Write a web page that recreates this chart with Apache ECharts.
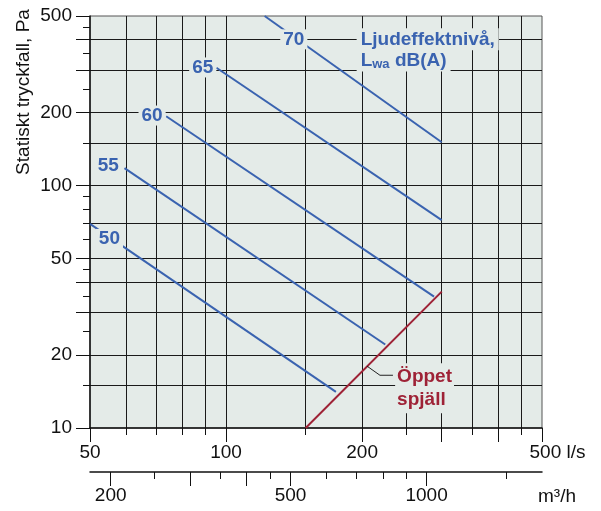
<!DOCTYPE html>
<html><head><meta charset="utf-8">
<script src="https://cdn.jsdelivr.net/npm/echarts@6/dist/echarts.min.js"></script>
<style>html,body{margin:0;padding:0;background:#fff}#c{width:601px;height:511px}</style>
</head><body><div id="c"></div>
<script>
// ---- data ----
const flowTicksMajor = [50, 100, 200, 300, 400, 500];
const flowTicksMinor = [60, 70, 80, 90, 150, 250, 350, 450];
const flowGrid = [60, 70, 80, 90, 100, 150, 200, 250, 300, 350, 400, 450];
const flowLabels = [50, 100, 200, 500];
const m3hTicksMajor = [200, 300, 400, 500, 1000];
const m3hTicksMinor = [250, 350, 450, 600, 700, 800, 900, 1500];
const m3hLabels = [200, 500, 1000];
const paTicksMajor = [10, 20, 30, 40, 50, 100, 200, 300, 400, 500];
const paTicksMinor = [15, 25, 35, 45, 60, 70, 80, 90, 150, 250, 350, 450];
const paGrid = [15, 20, 30, 40, 50, 70, 100, 150, 200, 300, 400];
const paLabels = [10, 20, 50, 100, 200, 500];

const levelNames = ['50', '55', '60', '65', '70'];
const levelFlow = [[50, 175], [59.6, 225], [73.7, 288.5], [95.2, 300], [121.7, 300]];
const levelPa = [[69.5, 14.1], [118, 22.1], [193, 34.8], [305.8, 72], [500, 150.7]];
const levelLabelFlow = [55.2, 54.9, 68.6, 88.8, 141.2];
const levelLabelPa = [60.2, 120.7, 194.3, 306.8, 400.6];

const openFlow = [150, 300];
const openPa = [10, 36.5];
const openLabel = 'Öppet\nspjäll';
const openLabelPos = [236, 14.6];
const leaderFlow = [205, 219, 234];
const leaderPa = [18.0, 16.5, 16.5];

const titleLine1 = 'Ljudeffektnivå,';
const titleLine2 = ['L', 'wa', ' dB(A)'];
const titlePos1 = [194, 400.6];
const titlePos2 = [194, 328];

// ---- style ----
const FONT = 'Liberation Sans, Arial, Helvetica, sans-serif';
const BLUE = '#3a63b0';
const RED = '#9e2236';
const BG = '#e4ebe8';
const INK = '#111';

const chart = echarts.init(document.getElementById('c'), null, {renderer: 'canvas'});

function xAx(opts) {
  return Object.assign({
    type: 'log', logBase: 10, min: 50, max: 500, gridIndex: 0, position: 'bottom',
    axisLine: {show: false}, axisTick: {show: false}, axisLabel: {show: false},
    splitLine: {show: false}, minorTick: {show: false}, minorSplitLine: {show: false}
  }, opts);
}
function yAx(opts) {
  return Object.assign({
    type: 'log', logBase: 10, min: 10, max: 500, gridIndex: 0, position: 'left',
    axisLine: {show: false}, axisTick: {show: false}, axisLabel: {show: false},
    splitLine: {show: false}, minorTick: {show: false}, minorSplitLine: {show: false}
  }, opts);
}
const lbl = {color: INK, fontSize: 19, fontFamily: FONT};
const hidden = {color: 'rgba(0,0,0,0)', opacity: 1};

const series = [];
levelNames.forEach((n, i) => {
  series.push({
    type: 'line', name: 'L' + n, xAxisIndex: 0, yAxisIndex: 0,
    data: [[levelFlow[i][0], levelPa[i][0]], [levelFlow[i][1], levelPa[i][1]]],
    showSymbol: false, symbol: 'none', lineStyle: {color: BLUE, width: 2}, z: 3, silent: true
  });
});
series.push({
  type: 'line', name: 'open', data: [[openFlow[0], openPa[0]], [openFlow[1], openPa[1]]],
  symbol: 'none', lineStyle: {color: RED, width: 2}, z: 4, silent: true
});
series.push({
  type: 'line', name: 'leader', data: leaderFlow.map((f, i) => [f, leaderPa[i]]),
  symbol: 'none', lineStyle: {color: '#222', width: 1}, z: 4, silent: true
});
series.push({
  type: 'scatter', name: 'levelLabels', z: 6, silent: true, symbolSize: 1, itemStyle: hidden,
  data: levelNames.map((n, i) => ({value: [levelLabelFlow[i], levelLabelPa[i]], name: n})),
  label: {show: true, position: 'inside', formatter: p => p.name, color: BLUE, fontWeight: 'bold',
    fontSize: 19, fontFamily: FONT, backgroundColor: BG, padding: [1, 3, 0, 3]}
});
series.push({
  type: 'scatter', name: 'titles', z: 6, silent: true, symbolSize: 1, itemStyle: hidden,
  data: [
    {value: titlePos1, label: {formatter: '{t|' + titleLine1 + '}'}},
    {value: titlePos2, label: {formatter: '{t|' + titleLine2[0] + '}{s|' + titleLine2[1] + '}{t|' + titleLine2[2] + '}'}}
  ],
  label: {show: true, position: 'right', distance: 0, backgroundColor: BG, padding: [0, 4, 0, 4],
    rich: {
      t: {color: BLUE, fontWeight: 'bold', fontSize: 19, fontFamily: FONT, lineHeight: 22},
      s: {color: BLUE, fontWeight: 'bold', fontSize: 13, fontFamily: FONT, lineHeight: 22, verticalAlign: 'bottom', padding: [6, 0, 0, 0]}
    }}
});
series.push({
  type: 'scatter', name: 'openLabel', z: 6, silent: true, symbolSize: 1, itemStyle: hidden,
  data: [{value: openLabelPos}],
  label: {show: true, position: 'right', distance: 0, formatter: openLabel, color: RED, fontWeight: 'bold',
    fontSize: 19, fontFamily: FONT, lineHeight: 23, backgroundColor: BG, padding: [2, 2, 2, 2]}
});

chart.setOption({
  animation: false,
  backgroundColor: '#fff',
  grid: {left: 90, top: 16, width: 452, height: 412, show: true, backgroundColor: BG, borderColor: '#555', borderWidth: 1, containLabel: false},
  xAxis: [
    xAx({axisLine: {show: true, lineStyle: {color: INK, width: 1.5}},
      axisTick: {show: true, length: 14, lineStyle: {color: INK, width: 1}, customValues: flowTicksMajor},
      axisLabel: Object.assign({show: true, margin: 15, customValues: flowLabels,
        formatter: v => { const r = Math.round(v); return r === 500 ? '{u|500 l/s}' : String(r); },
        rich: {u: {color: INK, fontSize: 19, fontFamily: FONT, padding: [0, 0, 0, 31]}}}, lbl)}),
    xAx({axisTick: {show: true, length: 7, lineStyle: {color: INK, width: 1}, customValues: flowTicksMinor}}),
    xAx({axisTick: {show: false, customValues: flowGrid}, splitLine: {show: true, lineStyle: {color: '#1a1a1a', width: 1}}}),
    xAx({min: 180, max: 1800, offset: 44,
      axisLine: {show: true, lineStyle: {color: INK, width: 1.5}},
      axisTick: {show: true, length: 14, lineStyle: {color: INK, width: 1}, customValues: m3hTicksMajor},
      axisLabel: Object.assign({show: true, margin: 14, customValues: m3hLabels, formatter: v => String(Math.round(v))}, lbl)}),
    xAx({min: 180, max: 1800, offset: 44,
      axisTick: {show: true, length: 7, lineStyle: {color: INK, width: 1}, customValues: m3hTicksMinor}})
  ],
  yAxis: [
    yAx({axisLine: {show: true, lineStyle: {color: INK, width: 1.5}},
      axisTick: {show: true, length: 14, lineStyle: {color: INK, width: 1}, customValues: paTicksMajor},
      axisLabel: Object.assign({show: true, margin: 18, customValues: paLabels, formatter: v => String(Math.round(v))}, lbl)}),
    yAx({axisTick: {show: true, length: 7, lineStyle: {color: INK, width: 1}, customValues: paTicksMinor}}),
    yAx({axisTick: {show: false, customValues: paGrid}, splitLine: {show: true, lineStyle: {color: '#1a1a1a', width: 1}}})
  ],
  graphic: [{
    type: 'text', x: 24, y: 92, rotation: Math.PI / 2, silent: true,
    style: {text: 'Statiskt tryckfall, Pa', font: '19px ' + FONT, fill: INK, align: 'center', verticalAlign: 'middle'}
  }, {
    type: 'text', x: 538, y: 497, silent: true,
    style: {text: 'm³/h', font: '19px ' + FONT, fill: INK, align: 'left', verticalAlign: 'middle'}
  }],
  series: series
});
</script>
</body></html>
